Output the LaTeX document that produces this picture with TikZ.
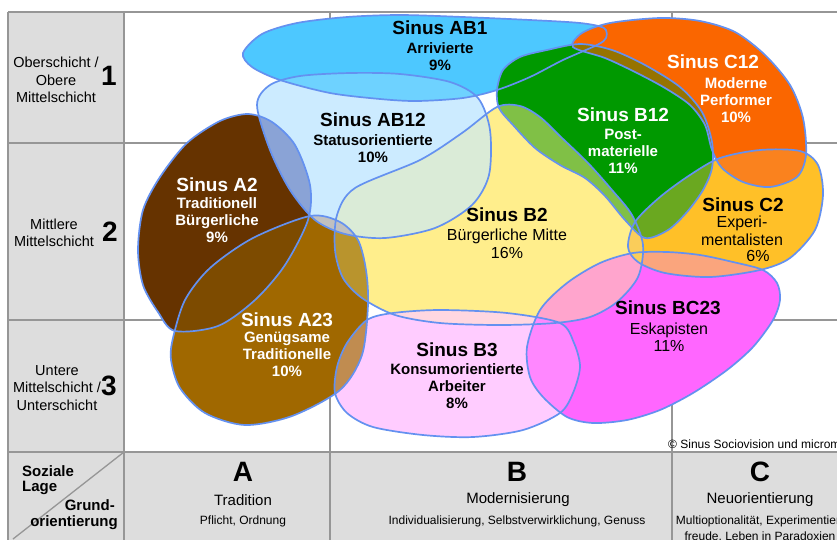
\documentclass[tikz,border=0pt]{standalone}
\usepackage{fontspec}
\setmainfont{Liberation Sans}
\usepackage{tikz}

\definecolor{gridgray}{RGB}{150,150,150}
\definecolor{cellgray}{RGB}{221,221,221}
\definecolor{edgeblue}{RGB}{100,145,240}
\definecolor{cABone}{RGB}{77,200,255}
\definecolor{cABonetwo}{RGB}{204,235,255}
\definecolor{cAtwo}{RGB}{102,51,0}
\definecolor{cAtwothree}{RGB}{160,104,0}
\definecolor{cBtwo}{RGB}{255,238,140}
\definecolor{cBthree}{RGB}{255,204,255}
\definecolor{cBCtwothree}{RGB}{255,102,255}
\definecolor{cCtwo}{RGB}{255,192,40}
\definecolor{cBonetwo}{RGB}{0,153,0}
\definecolor{cConetwo}{RGB}{250,102,0}
% overlap colours
\definecolor{oABone}{RGB}{110,210,255}
\definecolor{oAtwoAB}{RGB}{138,163,214}
\definecolor{oAtwoAtt}{RGB}{125,75,0}
\definecolor{oAttBtwo}{RGB}{185,148,45}
\definecolor{oABBtwo}{RGB}{218,235,215}
\definecolor{oABAtt}{RGB}{192,192,192}
\definecolor{oAttBthree}{RGB}{192,140,80}
\definecolor{oBtwoBthree}{RGB}{255,215,225}
\definecolor{oBtwoBC}{RGB}{255,165,205}
\definecolor{oBthreeBC}{RGB}{255,135,255}
\definecolor{oCtwoBC}{RGB}{250,165,125}
\definecolor{oBtwoCtwo}{RGB}{250,205,90}
\definecolor{oBotBtwo}{RGB}{128,192,70}
\definecolor{oBotCtwo}{RGB}{106,168,32}
\definecolor{oCotCtwo}{RGB}{250,130,30}
\definecolor{oBotCot}{RGB}{150,115,0}

% outlines of the milieus
\newcommand{\shapeABone}{plot[smooth cycle] coordinates {(243,53) (262,34) (297,23) (347,17) (400,15) (463,17) (530,20) (580,23) (604,28) (606,38) (597,45) (563,60) (530,77) (497,90) (463,98) (417,101) (380,99) (330,93) (280,80) (252,67)}}
\newcommand{\shapeABonetwo}{plot[smooth cycle] coordinates {(257,105) (270,85) (300,76) (350,73) (400,74) (450,82) (478,98) (490,130) (489,175) (472,205) (435,228) (385,238) (345,234) (315,220) (290,190) (270,150)}}
\newcommand{\shapeAtwo}{plot[smooth cycle] coordinates {(160,177) (187,143) (220,121) (248,114) (272,122) (295,145) (310,185) (308,220) (285,265) (255,300) (218,326) (175,331) (158,312) (143,285) (138,250) (143,210)}}
\newcommand{\shapeAtwothree}{plot[smooth cycle] coordinates {(173,338) (185,300) (210,268) (253,238) (310,216) (340,222) (358,240) (366,270) (368,305) (362,355) (340,390) (292,416) (245,425) (205,413) (180,388) (171,360)}}
\newcommand{\shapeBtwo}{plot[smooth cycle] coordinates {(497,107) (520,106) (540,117) (562,138) (588,163) (612,190) (632,215) (643,245) (638,277) (617,302) (590,317) (555,323) (500,325) (440,323) (395,315) (362,298) (343,278) (335,250) (337,215) (355,188) (420,160) (462,133)}}
\newcommand{\shapeBthree}{plot[smooth cycle] coordinates {(367,320) (393,313) (440,310) (507,313) (560,323) (574,343) (580,367) (573,393) (560,413) (523,430) (473,437) (423,435) (373,427) (347,413) (335,393) (337,367) (347,343)}}
\newcommand{\shapeBCtwothree}{plot[smooth cycle] coordinates {(527,347) (540,310) (567,283) (600,263) (633,253) (667,252) (700,255) (733,262) (763,270) (777,283) (780,300) (773,320) (753,347) (727,370) (693,393) (660,410) (627,420) (593,423) (567,417) (543,397) (530,377)}}
\newcommand{\shapeCtwo}{plot[smooth cycle] coordinates {(628,247) (635,222) (660,197) (690,175) (720,158) (760,150) (800,151) (818,165) (823,195) (815,230) (790,258) (760,270) (710,277) (665,273) (638,262)}}
\newcommand{\shapeBonetwo}{plot[smooth cycle] coordinates {(497,90) (503,70) (520,57) (547,50) (580,44) (612,50) (645,65) (680,87) (702,112) (712,142) (712,168) (703,190) (687,212) (668,230) (645,238) (625,220) (605,196) (585,178) (560,165) (535,148) (513,125) (499,108)}}
\newcommand{\shapeConetwo}{plot[smooth cycle] coordinates {(573,47) (582,33) (610,23) (660,18) (700,21) (735,32) (765,55) (790,85) (803,118) (806,155) (797,177) (770,187) (743,182) (722,168) (712,150) (705,125) (690,105) (665,88) (635,72) (605,58)}}

% overlap of two milieus: #1 clips, #2 is filled in colour #3
\newcommand{\lens}[3]{\begin{scope}\clip #1; \fill[#3] #2; \end{scope}}

\begin{document}
\begin{tikzpicture}[x=1pt, y=-1pt,
    gridline/.style={draw=gridgray, line width=1.3pt},
    blob/.style={draw=edgeblue, line width=1.7pt},
    title/.style={font=\bfseries\fontsize{19}{21}\selectfont, inner sep=0pt},
    sub/.style={font=\bfseries\fontsize{15}{17}\selectfont, align=center, inner sep=0pt},
    subreg/.style={font=\fontsize{16}{17.5}\selectfont, align=center, inner sep=0pt},
    rowlabel/.style={font=\fontsize{14.5}{17.5}\selectfont, align=center, inner sep=0pt},
    digit/.style={font=\bfseries\fontsize{28}{30}\selectfont, inner sep=0pt},
    colhead/.style={font=\fontsize{15}{17}\selectfont, inner sep=0pt},
    colnote/.style={font=\fontsize{12}{16}\selectfont, align=center, inner sep=0pt}
]
    \useasboundingbox (0,0) rectangle (837,539);
    \clip (0,0) rectangle (837,539);
    \fill[white] (0,0) rectangle (837,539);

    % Table
    \fill[cellgray] (8,12) rectangle (124,560);
    \fill[cellgray] (8,452) rectangle (860,560);
    \draw[gridline] (8,12) -- (860,12) (8,143) -- (860,143) (8,320) -- (860,320) (8,452) -- (860,452);
    \draw[gridline] (8,12) -- (8,560) (124,12) -- (124,560) (330,12) -- (330,560) (672,12) -- (672,560);
    \draw[gridline] (124,452) -- (13,539);

    % Milieus
    \fill[cABone] \shapeABone;
    \fill[cABonetwo] \shapeABonetwo;
    \fill[cAtwo] \shapeAtwo;
    \fill[cAtwothree] \shapeAtwothree;
    \fill[cBtwo] \shapeBtwo;
    \fill[cBthree] \shapeBthree;
    \fill[cBCtwothree] \shapeBCtwothree;
    \fill[cCtwo] \shapeCtwo;
    \fill[cBonetwo] \shapeBonetwo;
    \fill[cConetwo] \shapeConetwo;

    % Overlaps
    \lens{\shapeABone}{\shapeABonetwo}{oABone}
    \lens{\shapeAtwo}{\shapeABonetwo}{oAtwoAB}
    \lens{\shapeAtwo}{\shapeAtwothree}{oAtwoAtt}
    \lens{\shapeAtwothree}{\shapeBtwo}{oAttBtwo}
    \lens{\shapeABonetwo}{\shapeBtwo}{oABBtwo}
    \lens{\shapeABonetwo}{\shapeAtwothree}{oABAtt}
    \lens{\shapeAtwothree}{\shapeBthree}{oAttBthree}
    \lens{\shapeBtwo}{\shapeBthree}{oBtwoBthree}
    \lens{\shapeBtwo}{\shapeBCtwothree}{oBtwoBC}
    \lens{\shapeBthree}{\shapeBCtwothree}{oBthreeBC}
    \lens{\shapeCtwo}{\shapeBCtwothree}{oCtwoBC}
    \lens{\shapeBtwo}{\shapeCtwo}{oBtwoCtwo}
    \lens{\shapeBonetwo}{\shapeBtwo}{oBotBtwo}
    \lens{\shapeBonetwo}{\shapeCtwo}{oBotCtwo}
    \lens{\shapeConetwo}{\shapeCtwo}{oCotCtwo}
    \lens{\shapeBonetwo}{\shapeConetwo}{oBotCot}

    % Outlines
    \draw[blob] \shapeABone;
    \draw[blob] \shapeABonetwo;
    \draw[blob] \shapeAtwo;
    \draw[blob] \shapeAtwothree;
    \draw[blob] \shapeBtwo;
    \draw[blob] \shapeBthree;
    \draw[blob] \shapeBCtwothree;
    \draw[blob] \shapeCtwo;
    \draw[blob] \shapeBonetwo;
    \draw[blob] \shapeConetwo;

    % Labels of the milieus
    \node[title] (abonet) at (440,28) {Sinus AB1};
    \node[sub] (aboneb) at (440,57) {Arrivierte\\9\%};
    \node[title] (abonetwot) at (373,120) {Sinus AB12};
    \node[sub] (abonetwob) at (373,149) {Statusorientierte\\10\%};
    \node[title, white] (atwot) at (217,185) {Sinus A2};
    \node[sub, white] (atwob) at (217,220) {Traditionell\\Bürgerliche\\9\%};
    \node[title, white] (atwothreet) at (287,320) {Sinus A23};
    \node[sub, white] (atwothreeb) at (287,354) {Genügsame\\Traditionelle\\10\%};
    \node[title] (btwot) at (507,215) {Sinus B2};
    \node[subreg] (btwob) at (507,244) {Bürgerliche Mitte\\16\%};
    \node[title, white] (bonetwot) at (623,115) {Sinus B12};
    \node[sub, white] (bonetwob) at (623,151) {Post-\\materielle\\11\%};
    \node[title, white] (conetwot) at (713,62) {Sinus C12};
    \node[sub, white] (conetwob) at (736,100) {Moderne\\Performer\\10\%};
    \node[title] (ctwot) at (743,205) {Sinus C2};
    \node[subreg] (ctwob) at (742,231) {Experi-\\mentalisten};
    \node[subreg] (ctwop) at (758,256) {6\%};
    \node[title] (bctwothreet) at (668,308) {Sinus BC23};
    \node[subreg] (bctwothreeb) at (669,337) {Eskapisten\\11\%};
    \node[title] (bthreet) at (457,350) {Sinus B3};
    \node[sub] (bthreeb) at (457,386) {Konsumorientierte\\Arbeiter\\8\%};

    % Rows
    \node[rowlabel] (rowone) at (56,80) {Oberschicht /\\Obere\\Mittelschicht};
    \node[digit] (rowonenum) at (109,76) {1};
    \node[rowlabel] (rowtwo) at (54,233) {Mittlere\\Mittelschicht};
    \node[digit] (rowtwonum) at (110,232) {2};
    \node[rowlabel] (rowthree) at (57,388) {Untere\\Mittelschicht /\\Unterschicht};
    \node[digit] (rowthreenum) at (109,386) {3};

    % Corner
    \node[font=\bfseries\fontsize{15}{17}\selectfont, anchor=west, inner sep=0pt] (lage) at (22,471) {Soziale};
    \node[font=\bfseries\fontsize{15}{17}\selectfont, anchor=west, inner sep=0pt] (lagetwo) at (22,488) {Lage};
    \node[font=\bfseries\fontsize{15}{17}\selectfont, anchor=east, inner sep=0pt] (grund) at (115,505) {Grund-};
    \node[font=\bfseries\fontsize{15}{17}\selectfont, anchor=east, inner sep=0pt] (grundtwo) at (118,523) {orientierung};

    % Columns
    \node[digit] (cola) at (243,472) {A};
    \node[colhead] (colaname) at (243,500) {Tradition};
    \node[colnote] (colanote) at (243,521) {Pflicht, Ordnung};
    \node[digit] (colb) at (517,472) {B};
    \node[colhead] (colbname) at (518,500) {Modernisierung};
    \node[colnote] (colbnote) at (517,521) {Individualisierung, Selbstverwirklichung, Genuss};
    \node[digit] (colc) at (760,472) {C};
    \node[colhead] (colcname) at (760,500) {Neuorientierung};
    \node[colnote] (colcnote) at (760,529) {Multioptionalität, Experimentier-\\freude, Leben in Paradoxien};

    \node[font=\fontsize{12}{14}\selectfont, anchor=west, inner sep=0pt] (copy) at (668,444) {© Sinus Sociovision und microm};
\end{tikzpicture}
\end{document}
